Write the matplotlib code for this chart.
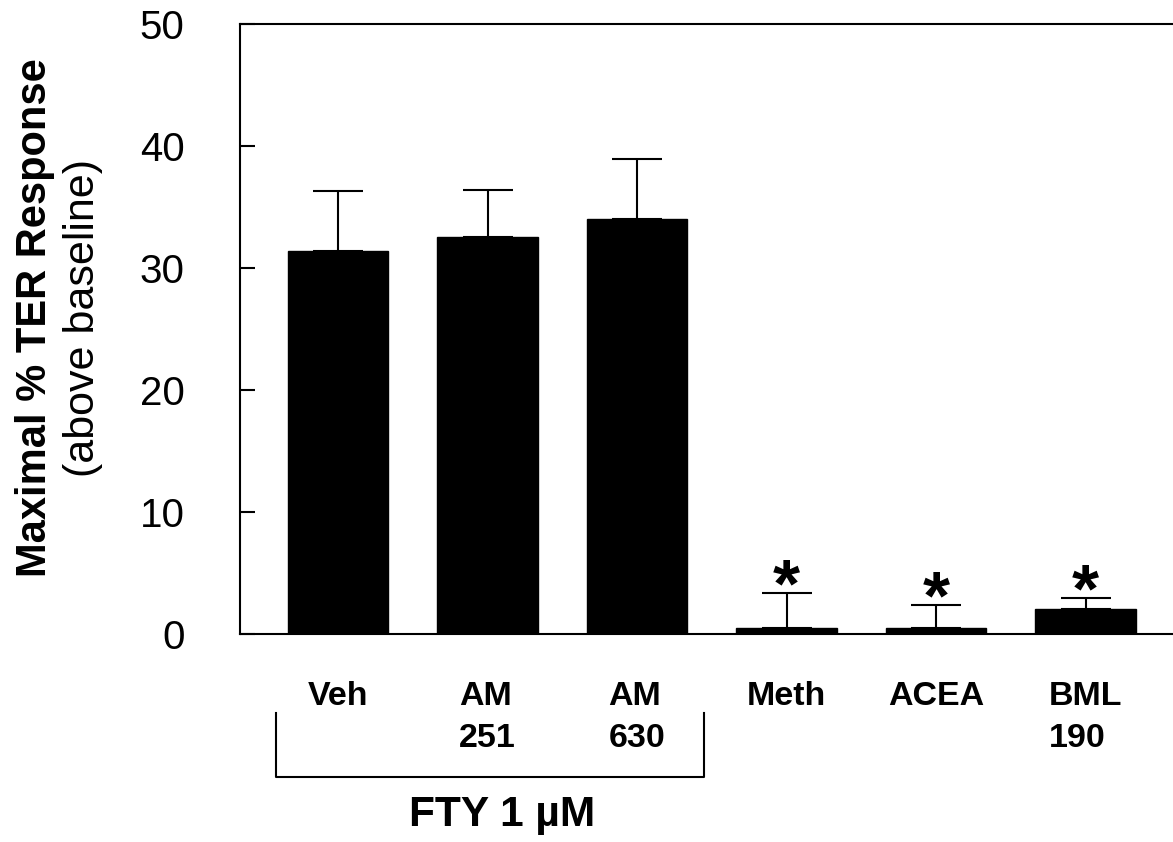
import matplotlib
matplotlib.use("Agg")
import matplotlib.pyplot as plt
import matplotlib.transforms as mtransforms

categories = ["Veh", "AM\n251", "AM\n630", "Meth", "ACEA", "BML\n190"]
means = [31.4, 32.5, 34.0, 0.5, 0.5, 2.05]
errors = [4.9, 3.9, 4.9, 2.9, 1.9, 0.9]
significant = [False, False, False, True, True, True]
yticks = [0, 10, 20, 30, 40, 50]
group_label = "FTY 1 µM"
ylabel_main = "Maximal % TER Response"
ylabel_sub = "(above baseline)"

plt.rcParams['font.family'] = ['Liberation Sans', 'DejaVu Sans']

fig = plt.figure(figsize=(11.73, 8.42), dpi=100)
ax = fig.add_axes([240/1173, 1-634/842, 1-240/1173, (634-24)/842])

x = list(range(len(categories)))
ax.bar(x, means, width=0.67, color='black', edgecolor='black', linewidth=1.0, zorder=2)
ax.errorbar(x, means, yerr=[[0]*len(errors), errors], fmt='none', ecolor='black',
            elinewidth=1.5, capsize=18, capthick=1.5, zorder=3)

for xi, m, e, s in zip(x, means, errors, significant):
    if s:
        ax.annotate('*', xy=(xi, m + e), xytext=(0, -10), textcoords='offset points',
                    ha='center', va='baseline', fontsize=50, fontweight='bold')

ax.set_xlim(-0.6555, 5.585)
ax.set_ylim(0, 50)
ax.set_yticks(yticks)
ax.set_yticklabels([str(t) for t in yticks], fontsize=29)
ax.tick_params(axis='y', direction='in', length=11, width=1.5, pad=40)
ax.set_xticks(x)
ax.set_xticklabels(categories, fontsize=24.5, fontweight='bold', linespacing=1.45,
                   multialignment='left')
ax.tick_params(axis='x', length=0, pad=34)

for side in ['left', 'top', 'bottom']:
    ax.spines[side].set_linewidth(1.5)
ax.spines['right'].set_visible(False)

# bracket for FTY group
trans = mtransforms.blended_transform_factory(ax.transData, ax.transAxes)
yb_top = (634 - 713) / 610
yb_bot = (634 - 777) / 610
xl, xr = -0.414, 2.45
ax.plot([xl, xl, xr, xr], [yb_top, yb_bot, yb_bot, yb_top], color='black', lw=1.5,
        transform=trans, clip_on=False)
ax.text(1.097, (634 - 815) / 610, group_label, transform=trans,
        ha='center', va='center', fontsize=30.5, fontweight='bold')

fig.text(35/1173, 1-318/842, ylabel_main, rotation=90, ha='center', va='center',
         fontsize=30, fontweight='bold')
fig.text(83/1173, 1-318/842, ylabel_sub, rotation=90, ha='center', va='center',
         fontsize=31)

fig.savefig("out.png", dpi=100)
